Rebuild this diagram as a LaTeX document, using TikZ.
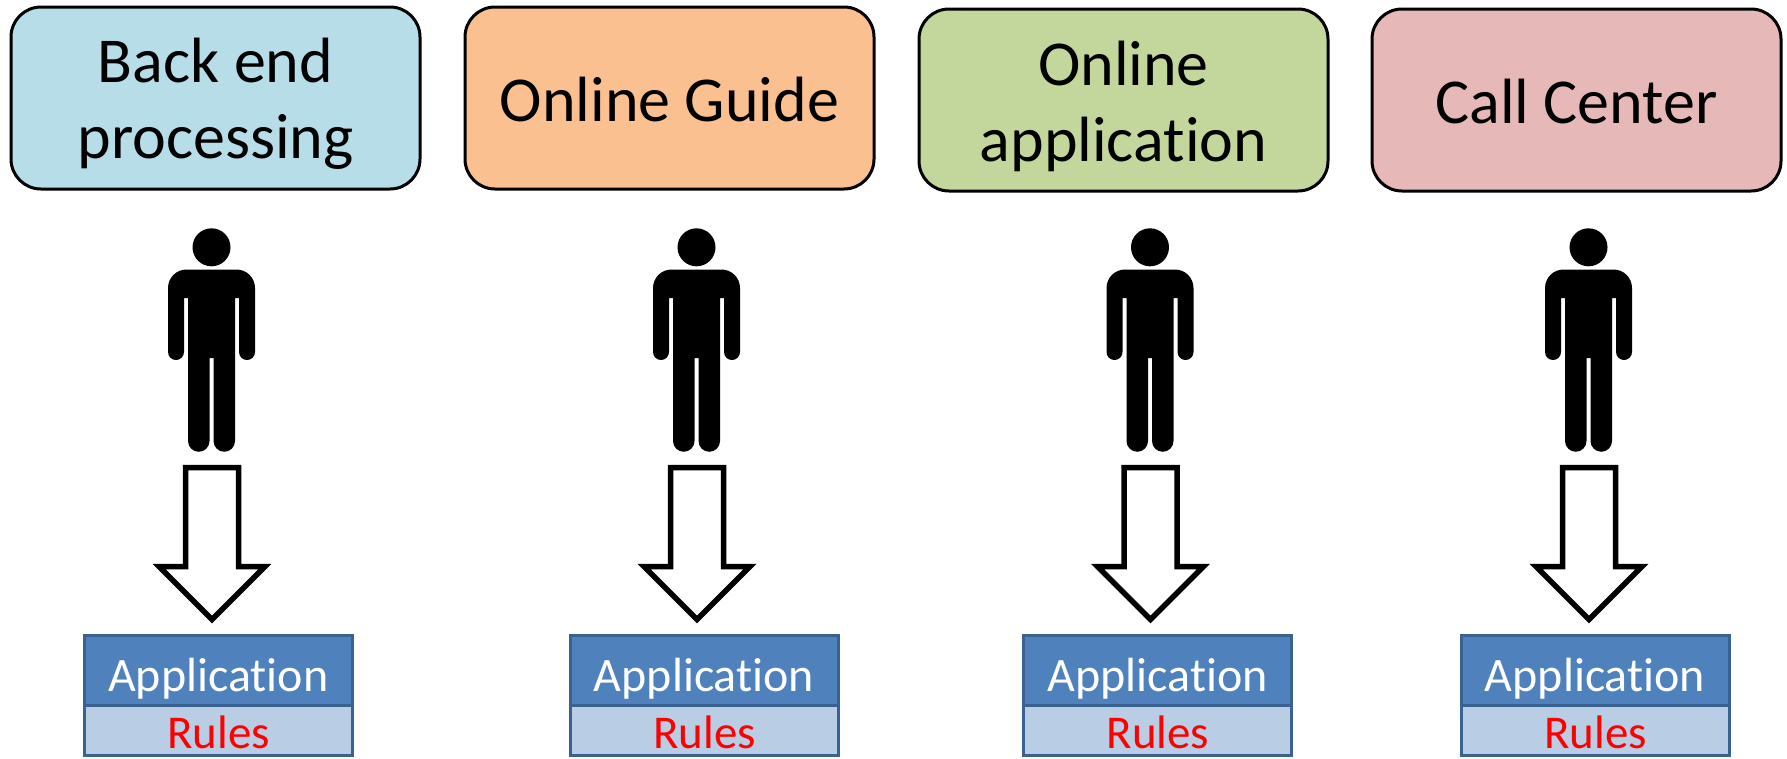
\documentclass[tikz,border=0pt]{standalone}
\usepackage{fontspec}
\setmainfont[Ligatures=NoCommon]{Carlito}
\definecolor{bluebox}{HTML}{B7DDE8}
\definecolor{orangebox}{HTML}{FAC090}
\definecolor{greenbox}{HTML}{C3D69B}
\definecolor{redbox}{HTML}{E6B9B8}
\definecolor{appfill}{HTML}{4F81BD}
\definecolor{appline}{HTML}{3A6291}
\definecolor{rulefill}{HTML}{B9CDE5}
\tikzset{
  headbox/.style={draw=black,line width=3pt,rounded corners=30pt,minimum width=409pt,minimum height=182pt,inner sep=0pt,outer sep=0pt},
  headtext/.style={inner sep=0pt,align=center,font=\fontsize{64}{76}\selectfont},
  appbox/.style={draw=appline,fill=appfill,line width=3pt,anchor=north west,minimum width=268.3pt,minimum height=70.5pt,inner sep=0pt,outer sep=0pt},
  rulebox/.style={draw=appline,fill=rulefill,line width=3pt,anchor=north west,minimum width=268.3pt,minimum height=50pt,inner sep=0pt,outer sep=0pt},
  applabel/.style={anchor=base,text=white,inner sep=0pt,font=\fontsize{48}{48}\selectfont},
  rulelabel/.style={anchor=base,text=red,inner sep=0pt,font=\fontsize{47}{47}\selectfont},
  bigarrow/.style={draw=black,fill=white,line width=5.5pt,miter limit=10},
  figure/.style={fill=black,draw=none}
}
% #1 person centre x, #2 arrow centre x, #3 application left x, #4 name
\newcommand{\column}[4]{
  \fill[figure] (#1,247.3) circle[radius=19];
  \fill[figure]
    (#1-25,269.5) -- (#1+25,269.5)
    arc[start angle=-90,end angle=0,radius=18.5]
    -- (#1+43.5,352) arc[start angle=0,end angle=180,radius=8]
    -- (#1+27.5,298) -- (#1+23.5,298)
    -- (#1+23.5,441) arc[start angle=0,end angle=180,radius=10.75]
    -- (#1+2,358) -- (#1-2,358)
    -- (#1-2,441) arc[start angle=0,end angle=180,radius=10.75]
    -- (#1-23.5,298) -- (#1-27.5,298)
    -- (#1-27.5,352) arc[start angle=0,end angle=180,radius=8]
    -- (#1-43.5,288) arc[start angle=180,end angle=270,radius=18.5] -- cycle;
  \draw[bigarrow] (#2-26.5,467.7) -- (#2+26.5,467.7) -- (#2+26.5,566.7) -- (#2+52.8,566.7)
    -- (#2,619.5) -- (#2-52.8,566.7) -- (#2-26.5,566.7) -- cycle;
  \node[rulebox] (rule#4) at (#3,705.5) {};
  \node[appbox] (app#4) at (#3,635) {};
  \node[applabel] (applabel#4) at (#3+134,691.7) {Application};
  \node[rulelabel] (rulelabel#4) at (#3+134.5,748) {Rules};
}
\begin{document}
\begin{tikzpicture}[x=1pt,y=-1pt]
\useasboundingbox (0,0) rectangle (1787,758);
\node[headbox,fill=bluebox] (backend) at (215.5,98) {};
\node[headbox,fill=orangebox] (guide) at (669.5,98) {};
\node[headbox,fill=greenbox] (onlineapp) at (1123.5,100) {};
\node[headbox,fill=redbox] (call) at (1576.5,100) {};
\node[headtext] (backendtext) at ([yshift=-6pt]backend.center) {Back end\\processing};
\node[headtext] (guidetext) at ([yshift=-2pt]guide.center) {Online Guide};
\node[headtext] (onlineapptext) at ([yshift=-6pt]onlineapp.center) {Online\\application};
\node[headtext] (calltext) at ([yshift=-2pt]call.center) {Call Center};
\column{211.5}{212}{84.2}{a}
\column{696.5}{697}{570}{b}
\column{1150}{1150.5}{1023.5}{c}
\column{1588.5}{1589}{1461}{d}
\end{tikzpicture}
\end{document}
